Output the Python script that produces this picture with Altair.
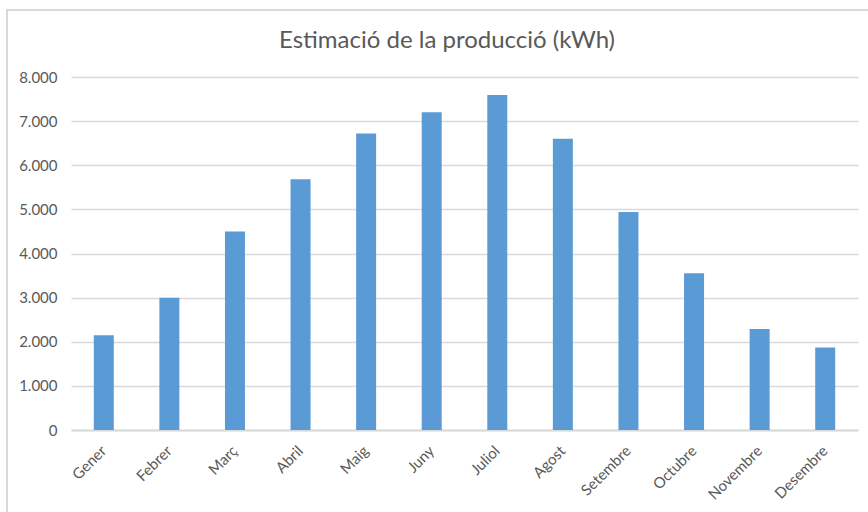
import altair as alt
import pandas as pd

# Monthly solar production estimate (kWh)
months = ["Gener", "Febrer", "Març", "Abril", "Maig", "Juny",
          "Juliol", "Agost", "Setembre", "Octubre", "Novembre", "Desembre"]
production = [2150, 3000, 4500, 5680, 6720, 7200,
              7590, 6600, 4940, 3550, 2290, 1870]
y_ticks = [0, 1000, 2000, 3000, 4000, 5000, 6000, 7000, 8000]
title_text = "Estimació de la producció (kWh)"

df = pd.DataFrame({"mes": months, "kwh": production})

FONT = "Lato"
GREY = "#595959"
LINE = "#d9d9d9"

base = alt.Chart(df)

# thin frame around the whole chart
frame = base.mark_rect(fill=None, stroke=LINE, strokeWidth=1.5).encode(
    x=alt.value(-64), x2=alt.value(900), y=alt.value(-67), y2=alt.value(520)
)

# chart title, centred on the outer frame
heading = alt.Chart(pd.DataFrame({"t": [title_text]})).mark_text(
    font=FONT, fontSize=24, color=GREY, align="center", baseline="alphabetic"
).encode(text="t:N", x=alt.value(376), y=alt.value(-29))

bars = base.mark_bar(color="#5b9bd5", size=20).encode(
    x=alt.X("mes:N", sort=months,
            scale=alt.Scale(paddingInner=0, paddingOuter=0),
            axis=alt.Axis(title=None, labelAngle=-45, labelFont=FONT,
                          labelFontSize=15, labelColor=GREY, labelPadding=13,
                          labelOffset=-5,
                          ticks=False, domainColor=LINE, domainWidth=2,
                          grid=False)),
    y=alt.Y("kwh:Q", scale=alt.Scale(domain=[0, 8000], nice=False),
            axis=alt.Axis(title=None, values=y_ticks, labelFont=FONT,
                          labelFontSize=15, labelColor=GREY, labelPadding=14,
                          labelExpr="replace(format(datum.value, ','), ',', '.')",
                          ticks=False, domain=False, gridColor=LINE,
                          gridWidth=1.5)),
)

chart = alt.layer(frame, bars, heading).properties(
    width=787,
    height=353,
    autosize=alt.AutoSizeParams(type="none"),
    padding={"left": 71, "top": 77, "right": 10, "bottom": 82},
).configure(background="white").configure_view(stroke="transparent", strokeWidth=0)

chart.save("out.html", embed_options={"renderer": "svg", "actions": False})
